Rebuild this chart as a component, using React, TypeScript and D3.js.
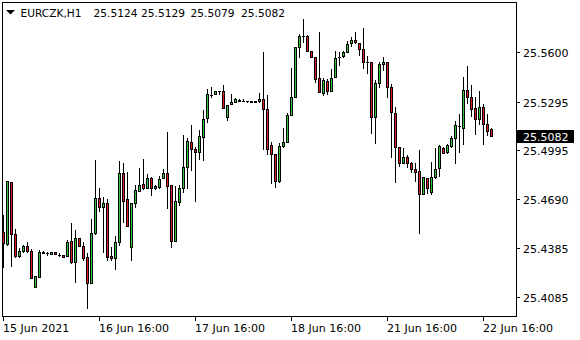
import React from "react";
import * as d3 from "d3";

const W = 580;
const H = 340;

const symbol = "EURCZK,H1";
const ohlcLabels = ["25.5124", "25.5129", "25.5079", "25.5082"];
const ohlcLabelX = [93.5, 141, 190.5, 241];

const opens = [
  25.4488, 25.441, 25.4794, 25.4472, 25.4339, 25.4368, 25.4397, 25.4368, 25.4147, 25.4209,
  25.4358, 25.4354, 25.435, 25.4362, 25.4345, 25.4345, 25.4339, 25.443, 25.4302, 25.4447,
  25.4401, 25.4333, 25.4172, 25.4482, 25.4695, 25.4643, 25.4664, 25.4339, 25.4327, 25.4422,
  25.485, 25.4689, 25.4391, 25.4664, 25.4742, 25.4784, 25.4761, 25.4819, 25.4757, 25.4763,
  25.4819, 25.485, 25.4777, 25.4432, 25.4674, 25.4757, 25.4887, 25.5044, 25.5001, 25.498,
  25.5075, 25.5191, 25.5335, 25.534, 25.5362, 25.5362, 25.5201, 25.5278, 25.5294, 25.5302,
  25.53, 25.5297, 25.5297, 25.5293, 25.5296, 25.5309, 25.5247, 25.5025, 25.4968, 25.4802,
  25.5019, 25.5042, 25.5211, 25.5321, 25.5635, 25.5701, 25.5701, 25.561, 25.5571, 25.5439,
  25.535, 25.5422, 25.5362, 25.5449, 25.5573, 25.5579, 25.56, 25.5656, 25.5676, 25.5656,
  25.5619, 25.5542, 25.5542, 25.5201, 25.5408, 25.5526, 25.5542, 25.5383, 25.5222, 25.5013,
  25.4916, 25.4949, 25.4914, 25.4875, 25.4862, 25.472, 25.4819, 25.4736, 25.4829, 25.4881,
  25.5005, 25.4984, 25.5021, 25.5067, 25.5143, 25.5133, 25.5366, 25.5321, 25.5253, 25.5185,
  25.5263, 25.5154, 25.5124,
];

const highs = [
  25.4592, 25.4802, 25.4794, 25.4505, 25.4385, 25.4406, 25.4422, 25.4381, 25.4213, 25.4375,
  25.4368, 25.4364, 25.4362, 25.4362, 25.4356, 25.4345, 25.4436, 25.4542, 25.4497, 25.4447,
  25.4422, 25.4354, 25.4565, 25.4932, 25.4757, 25.4705, 25.4689, 25.4395, 25.4463, 25.4924,
  25.4912, 25.4856, 25.4664, 25.4777, 25.4881, 25.4939, 25.4844, 25.4829, 25.4777, 25.4835,
  25.4877, 25.5108, 25.4777, 25.4771, 25.4777, 25.5087, 25.5067, 25.5149, 25.5015, 25.5118,
  25.5242, 25.5371, 25.5387, 25.536, 25.5362, 25.5397, 25.5273, 25.534, 25.5317, 25.531,
  25.531, 25.5298, 25.5298, 25.5297, 25.5345, 25.5604, 25.5335, 25.5046, 25.4968, 25.5036,
  25.5129, 25.5226, 25.5505, 25.5635, 25.5712, 25.5806, 25.5707, 25.561, 25.5573, 25.5728,
  25.5439, 25.5433, 25.5495, 25.5608, 25.5604, 25.561, 25.5672, 25.5693, 25.5724, 25.5656,
  25.5749, 25.5577, 25.5542, 25.5428, 25.5542, 25.5569, 25.5542, 25.5404, 25.5259, 25.5013,
  25.5005, 25.4963, 25.4922, 25.4916, 25.4994, 25.4825, 25.4819, 25.4918, 25.5005, 25.5025,
  25.5013, 25.5032, 25.5081, 25.5176, 25.5218, 25.5445, 25.5515, 25.5397, 25.5325, 25.536,
  25.528, 25.5216, 25.5129,
];

const lows = [
  25.4267, 25.4406, 25.4277, 25.4331, 25.4333, 25.4364, 25.4364, 25.4199, 25.4147, 25.4209,
  25.4358, 25.4345, 25.435, 25.4348, 25.4335, 25.4333, 25.4337, 25.4292, 25.4174, 25.4401,
  25.4313, 25.4013, 25.417, 25.4474, 25.4618, 25.4364, 25.4313, 25.4313, 25.4257, 25.4406,
  25.455, 25.4525, 25.4313, 25.4643, 25.4742, 25.4753, 25.4759, 25.4715, 25.4751, 25.4757,
  25.4819, 25.4637, 25.4395, 25.4432, 25.4653, 25.4736, 25.4757, 25.487, 25.468, 25.4937,
  25.4932, 25.5168, 25.5321, 25.534, 25.5341, 25.5253, 25.5179, 25.5278, 25.5294, 25.53,
  25.5298, 25.529, 25.5291, 25.5292, 25.5294, 25.4999, 25.4968, 25.4792, 25.4767, 25.4798,
  25.5011, 25.5042, 25.5211, 25.5321, 25.5569, 25.5666, 25.561, 25.5571, 25.5418, 25.5352,
  25.5335, 25.5341, 25.5362, 25.5449, 25.5521, 25.5569, 25.56, 25.5639, 25.5656, 25.5583,
  25.5501, 25.5474, 25.5098, 25.5036, 25.5387, 25.549, 25.5321, 25.4949, 25.4798, 25.4897,
  25.4916, 25.4891, 25.486, 25.4804, 25.4482, 25.472, 25.473, 25.472, 25.4823, 25.4833,
  25.4974, 25.4978, 25.5015, 25.4912, 25.4984, 25.5032, 25.5284, 25.5205, 25.5094, 25.5156,
  25.5032, 25.5087, 25.5079,
];

const closes = [
  25.4416, 25.4802, 25.4472, 25.4339, 25.4368, 25.4401, 25.4368, 25.4199, 25.4213, 25.436,
  25.4359, 25.4355, 25.4362, 25.4348, 25.4346, 25.4333, 25.4422, 25.4302, 25.4447, 25.4401,
  25.4323, 25.4172, 25.4478, 25.4695, 25.4643, 25.4664, 25.4333, 25.4327, 25.4422, 25.485,
  25.468, 25.4525, 25.4664, 25.4746, 25.4776, 25.4761, 25.4819, 25.4757, 25.4771, 25.4815,
  25.485, 25.4773, 25.4432, 25.4678, 25.4757, 25.4887, 25.505, 25.4999, 25.498, 25.5081,
  25.5185, 25.534, 25.5336, 25.5358, 25.536, 25.5253, 25.5271, 25.5294, 25.5312, 25.5301,
  25.5299, 25.5296, 25.5293, 25.5296, 25.5312, 25.5247, 25.4999, 25.4968, 25.4802, 25.5019,
  25.5042, 25.5211, 25.5321, 25.5635, 25.5701, 25.57, 25.561, 25.5571, 25.5433, 25.5356,
  25.5428, 25.5362, 25.5439, 25.5567, 25.5572, 25.56, 25.5652, 25.5676, 25.5662, 25.5619,
  25.5538, 25.5541, 25.5201, 25.5408, 25.5527, 25.554, 25.5383, 25.5228, 25.5011, 25.4916,
  25.4949, 25.4912, 25.4875, 25.486, 25.472, 25.4825, 25.4761, 25.4825, 25.4875, 25.5019,
  25.4978, 25.5024, 25.5067, 25.5148, 25.5144, 25.5366, 25.5321, 25.525, 25.5185, 25.5263,
  25.5154, 25.5114, 25.5082,
];

const yTicks = [25.56, 25.5295, 25.4995, 25.469, 25.4385, 25.4085];
const xTickBars = [0, 24, 48, 72, 96, 120];
const xTickLabels = ["15 Jun 2021", "16 Jun 16:00", "17 Jun 16:00", "18 Jun 16:00", "21 Jun 16:00", "22 Jun 16:00"];
const lastPrice = 25.5082;

const BULL = "#33c433";
const BEAR = "#e01a1e";
const FONT = "'DejaVu Sans', Verdana, sans-serif";

export default function App() {
  const n = opens.length;
  const x = d3.scaleLinear().domain([0, n - 1]).range([3, 3 + 4 * (n - 1)]);
  const y = d3.scaleLinear().domain([25.4085, 25.56]).range([296.7, 52.3]);

  const left = 2, top = 2, right = 516, bottom = 316;

  const candles = d3.range(n).map((i) => {
    const c = Math.round(x(i));
    const yo = Math.round(y(opens[i]));
    const yc = Math.round(y(closes[i]));
    const yh = Math.round(y(highs[i]));
    const yl = Math.round(y(lows[i]));
    const bt = Math.min(yo, yc);
    const bb = Math.max(yo, yc);
    const color = closes[i] >= opens[i] ? BULL : BEAR;
    return (
      <g key={i}>
        <rect x={c} y={yh} width={1} height={Math.max(1, yl - yh + 1)} fill="#000" />
        <rect x={c - 1} y={bt} width={3} height={bb - bt + 1} fill="#000" />
        {bb - bt >= 2 && <rect x={c} y={bt + 1} width={1} height={bb - bt - 1} fill={color} />}
      </g>
    );
  });

  const lastY = Math.round(y(lastPrice));

  return (
    <div style={{ position: "fixed", left: 0, top: 0, width: W, height: H, background: "#fff" }}>
      <svg width={W} height={H} style={{ display: "block" }} fontFamily={FONT} fontSize={11}>
        <rect x={0} y={0} width={W} height={H} fill="#fff" />
        <g shapeRendering="crispEdges">
          {candles}
          <rect x={left + 0.5} y={top + 0.5} width={right - left} height={bottom - top} fill="none" stroke="#000" strokeWidth={1} />
          {yTicks.map((v) => (
            <rect key={v} x={right} y={Math.round(y(v))} width={4} height={1} fill="#000" />
          ))}
          {xTickBars.map((b) => (
            <rect key={b} x={Math.round(x(b))} y={bottom + 1} width={1} height={4} fill="#000" />
          ))}
        </g>
        {yTicks.map((v) => (
          <text key={v} x={523} y={Math.round(y(v)) + 4.5} fill="#000">
            {v.toFixed(4)}
          </text>
        ))}
        <rect x={517} y={lastY - 6} width={57} height={13} fill="#000" shapeRendering="crispEdges" />
        <text x={523} y={lastY + 4.5} fill="#fff">
          {lastPrice.toFixed(4)}
        </text>
        {xTickBars.map((b, k) => (
          <text key={b} x={Math.round(x(b))} y={332} fill="#000">
            {xTickLabels[k]}
          </text>
        ))}
        <path d="M6,10 L15,10 L10.5,14.5 Z" fill="#000" />
        <text x={20.5} y={17} fill="#000" textLength={61} lengthAdjust="spacingAndGlyphs">{symbol}</text>
        {ohlcLabels.map((t, k) => (
          <text key={k} x={ohlcLabelX[k]} y={17} fill="#000" textLength={44} lengthAdjust="spacingAndGlyphs">
            {t}
          </text>
        ))}
      </svg>
    </div>
  );
}
